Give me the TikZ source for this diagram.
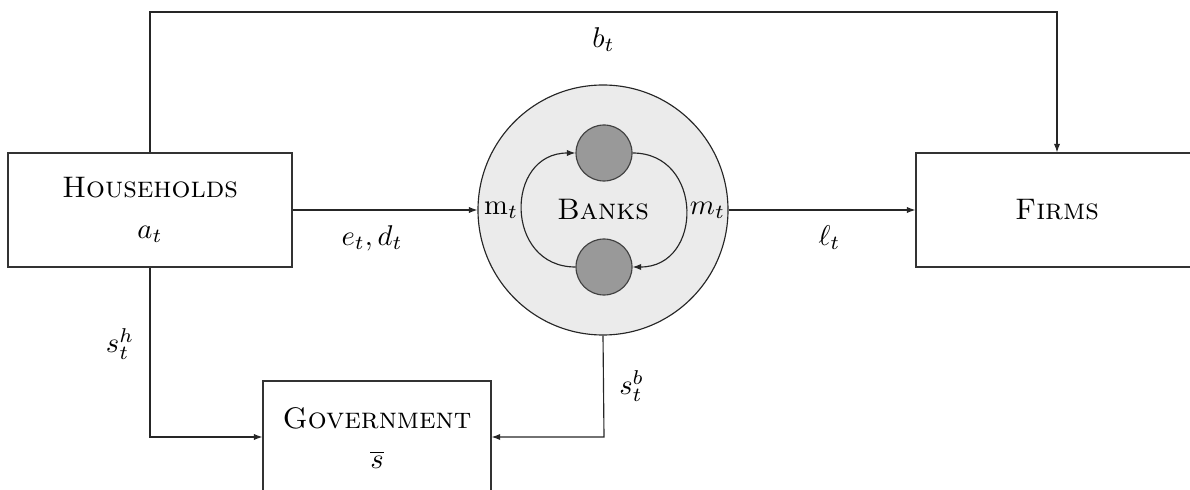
\documentclass[tikz,border=0pt]{standalone}
\usetikzlibrary{arrows.meta}
\begin{document}
\begin{tikzpicture}[x=0.35pt,y=-0.35pt,
  every node/.style={font=\fontsize{10.4pt}{12.5pt}\selectfont},
  box/.style={draw=black!80, minimum height=39.9pt, align=center, inner sep=0pt},
  arr/.style={-{Latex[length=3pt,width=2.2pt]}, draw=black!85},
  smallbank/.style={circle, draw=black!75, fill=black!40, minimum size=19.6pt, inner sep=0pt}]
\clip (0,0) rectangle (1190,490);
\node[box, minimum width=99.4pt] (hh) at (150,210) {\textsc{Households}\\[1.8pt]$a_t$};
\node[box, minimum width=98.7pt] (firms) at (1057,210) {\textsc{Firms}};
\node[box, minimum width=79.8pt] (gov) at (377,438) {\textsc{Government}\\[1.5pt]$\overline{s}$};
\node[circle, draw=black!85, fill=black!8, minimum size=87.5pt, inner sep=0pt] (banks) at (603,210) {\textsc{Banks}};
\node[smallbank] (b1) at (604,153) {};
\node[smallbank] (b2) at (604,267) {};
\draw[arr] (b2.west) to[out=180,in=180,looseness=1.6] node[left,inner sep=1.2pt]{$\mathrm{m}_t$} (b1.west);
\draw[arr] (b1.east) to[out=0,in=0,looseness=1.6] node[right,inner sep=1.2pt]{$m_t$} (b2.east);
\coordinate (tl) at (150,12);
\coordinate (tr) at (1057,12);
\coordinate (bl) at (150,437);
\coordinate (br) at (604,437);
\draw[arr] (hh.north) -- (tl) -- node[below=2pt]{$b_t$} (tr) -- (firms.north);
\draw[arr] (hh.east) -- node[below=2pt, pos=0.43]{$e_t, d_t$} (banks.west);
\draw[arr] (banks.east) -- node[below=2pt, pos=0.54]{$\ell_t$} (firms.west);
\draw[arr] (hh.south) -- node[left=2pt, pos=0.45]{$s_t^h$} (bl) -- (gov.west |- bl);
\draw[arr] (banks.south) -- node[right=2pt]{$s_t^b$} (br) -- (gov.east |- br);
\end{tikzpicture}
\end{document}
